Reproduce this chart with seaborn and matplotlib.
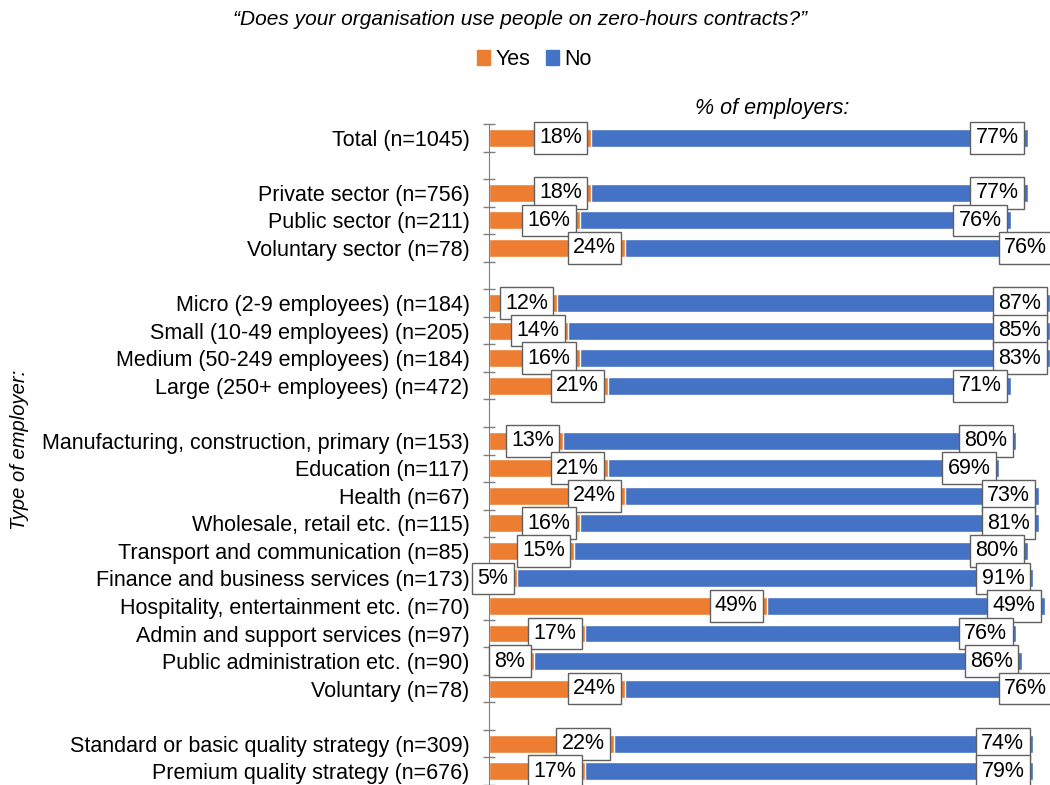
import numpy as np
import pandas as pd
import seaborn as sns
import matplotlib
matplotlib.use("Agg")
from matplotlib import pyplot as plt
from matplotlib.patches import Patch
from matplotlib.ticker import FixedLocator

# data
groups = [
    ["Total (n=1045)"],
    ["Private sector (n=756)", "Public sector (n=211)", "Voluntary sector (n=78)"],
    ["Micro (2-9 employees) (n=184)", "Small (10-49 employees) (n=205)",
     "Medium (50-249 employees) (n=184)", "Large (250+ employees) (n=472)"],
    ["Manufacturing, construction, primary (n=153)", "Education (n=117)",
     "Health (n=67)", "Wholesale, retail etc. (n=115)",
     "Transport and communication (n=85)", "Finance and business services (n=173)",
     "Hospitality, entertainment etc. (n=70)", "Admin and support services (n=97)",
     "Public administration etc. (n=90)", "Voluntary (n=78)"],
    ["Standard or basic quality strategy (n=309)", "Premium quality strategy (n=676)"],
]
yes = [18, 18, 16, 24, 12, 14, 16, 21, 13, 21, 24, 16, 15, 5, 49, 17, 8, 24, 22, 17]
no = [77, 77, 76, 76, 87, 85, 83, 71, 80, 69, 73, 81, 80, 91, 49, 76, 86, 76, 74, 79]

ORANGE = "#ED7D31"
BLUE = "#4472C4"
FS = 15.5

labels = [lab for g in groups for lab in g]
df = pd.DataFrame({"label": labels, "Yes": yes, "No": no})
df["total"] = df["Yes"] + df["No"]

# category order with blank spacer rows between groups
order = []
for i, g in enumerate(groups):
    if i > 0:
        order.append(" " * i)
    order.extend(g)

sns.set_style("white")
plt.rcParams["font.family"] = ["Liberation Sans", "DejaVu Sans"]
plt.rcParams["text.color"] = "black"

fig = plt.figure(figsize=(10.5, 7.85), dpi=100)
ax = fig.add_axes([0.4657, 0.0, 0.54, 0.842])

sns.barplot(data=df, x="total", y="label", order=order, color=BLUE,
            saturation=1, width=0.65, ax=ax, orient="h")
sns.barplot(data=df, x="Yes", y="label", order=order, color=ORANGE,
            saturation=1, width=0.65, ax=ax, orient="h")

ax.set_xlim(0, 100)
ax.set_ylim(len(order) - 0.5, -0.5)

box = dict(boxstyle="square,pad=0.25", fc="white", ec="#606060", lw=1)
for _, r in df.iterrows():
    ypos = order.index(r["label"])
    for val, end in [(r["Yes"], r["Yes"]), (r["No"], r["total"])]:
        ax.annotate(f"{val}%", xy=(end, ypos), xytext=(-6.5, 0),
                    textcoords="offset points", ha="right", va="center",
                    fontsize=FS, color="black", bbox=box, zorder=5)

# axis styling
for s in ["top", "right", "bottom"]:
    ax.spines[s].set_visible(False)
ax.spines["left"].set_color("#7f7f7f")
ax.set_xticks([])
ax.set_xlabel("")
ax.set_ylabel("")
ax.tick_params(axis="y", which="major", left=False, length=0, labelsize=FS,
               pad=14, labelcolor="black")
ax.yaxis.set_minor_locator(FixedLocator(np.arange(-0.5, len(order), 1.0)))
ax.tick_params(axis="y", which="minor", left=True, direction="inout",
               length=9, color="#7f7f7f", width=1)

fig.text(0.495, 0.975, "\u201cDoes your organisation use people on zero-hours contracts?\u201d",
         ha="center", va="center", fontsize=15, style="italic")
fig.text(0.735, 0.862, "% of employers:", ha="center", va="center",
         fontsize=FS, style="italic")
fig.text(0.019, 0.427, "Type of employer:", ha="center", va="center",
         rotation=90, fontsize=14.5, style="italic")

handles = [Patch(color=ORANGE, label="Yes"), Patch(color=BLUE, label="No")]
fig.legend(handles=handles, loc="center", bbox_to_anchor=(0.509, 0.924), ncol=2,
           frameon=False, fontsize=FS, handlelength=0.6, handleheight=0.7,
           handletextpad=0.25, columnspacing=0.7)

fig.savefig("out.png", dpi=100)
